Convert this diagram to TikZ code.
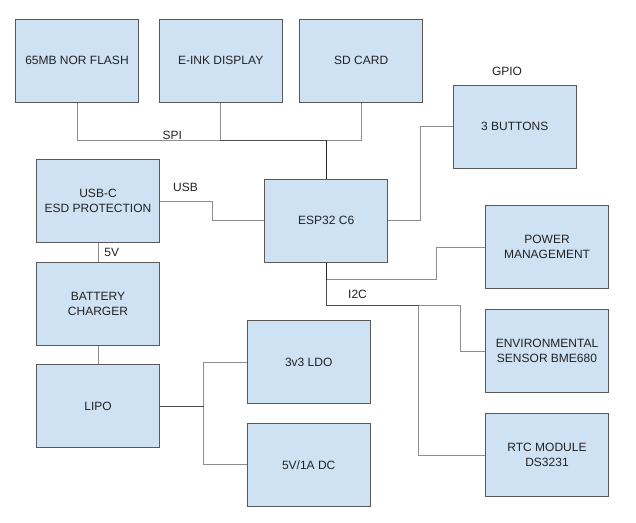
\documentclass[tikz,border=0pt]{standalone}
\usepackage{fontspec}
\setmainfont{Liberation Sans}
\definecolor{boxfill}{HTML}{CFE2F3}
\definecolor{boxline}{HTML}{595959}
\definecolor{txt}{HTML}{222222}
\tikzset{
  blk/.style={draw=boxline, fill=boxfill, line width=1pt, minimum width=122.6pt, minimum height=83pt,
    inner sep=0pt, align=center, text=txt, font=\fontsize{12}{15}\selectfont},
  wire/.style={draw=black, draw opacity=0.45, line width=1pt},
  lbl/.style={text=txt, font=\fontsize{12}{14}\selectfont, inner sep=0pt}
}
\begin{document}
\begin{tikzpicture}[x=1pt,y=-1pt]
\useasboundingbox (0,0) rectangle (636,522);
% boxes
\node[blk] (nor)  at (77,60.5)    {65MB NOR FLASH};
\node[blk] (eink) at (220.7,60.5) {E-INK DISPLAY};
\node[blk] (sd)   at (361.2,60.5) {SD CARD};
\node[blk] (btn)  at (514.7,126.7) {3 BUTTONS};
\node[blk] (usb)  at (98,201.3)   {USB-C\\ESD PROTECTION};
\node[blk] (esp)  at (326.2,220.8) {ESP32 C6};
\node[blk] (pwr)  at (547,247)    {POWER\\MANAGEMENT};
\node[blk] (bat)  at (98,304.2)   {BATTERY\\CHARGER};
\node[blk] (lipo) at (98,406.3)   {LIPO};
\node[blk] (ldo)  at (308.7,362.2) {3v3 LDO};
\node[blk] (dc)   at (308.7,464.8) {5V/1A DC};
\node[blk] (env)  at (547,351.2)  {ENVIRONMENTAL\\SENSOR BME680};
\node[blk] (rtc)  at (547,455.3)  {RTC MODULE\\DS3231};
% bend points
\coordinate (spi)  at (326.2,140.7);
\coordinate (usbk) at (212.3,201.3);
\coordinate (gp)   at (420.7,180);
\coordinate (pw1)  at (436.7,279);
\coordinate (ic1)  at (460,305);
\coordinate (ic2)  at (418.7,305);
\coordinate (lj)   at (203.3,406.3);
% connectors
\draw[wire] (nor.south)  |- (spi) -- (esp.north);
\draw[wire] (eink.south) |- (spi) -- (esp.north);
\draw[wire] (sd.south)   |- (spi) -- (esp.north);
\draw[wire] (usb.east) -- (usbk) |- (esp.west);
\draw[wire] (esp.east) -| (gp) |- (btn.west);
\draw[wire] (esp.south) |- (pw1) |- (pwr.west);
\draw[wire] (esp.south) |- (ic1) |- (env.west);
\draw[wire] (esp.south) |- (ic2) |- (rtc.west);
\draw[wire] (usb.south) -- (bat.north);
\draw[wire] (bat.south) -- (lipo.north);
\draw[wire] (lipo.east) -- (lj) |- (ldo.west);
\draw[wire] (lipo.east) -- (lj) |- (dc.west);
% labels
\node[lbl] (lspi)  at (172.2,135)  {SPI};
\node[lbl] (lusb)  at (185.5,187)  {USB};
\node[lbl] (l5v)   at (111.7,252.8) {5V};
\node[lbl] (lgpio) at (507,71)     {GPIO};
\node[lbl] (li2c)  at (357.5,294.5) {I2C};
\end{tikzpicture}
\end{document}
